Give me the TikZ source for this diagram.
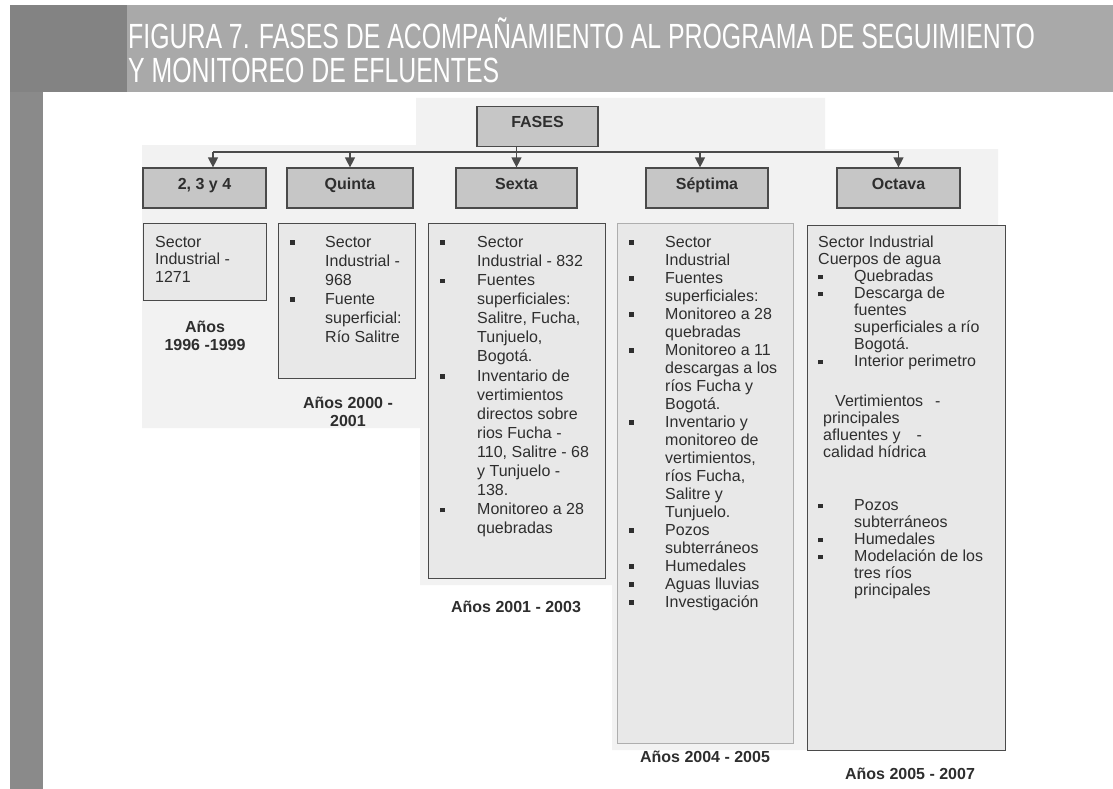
\documentclass[tikz,border=0pt]{standalone}
\usepackage{fontspec}
\setmainfont{Liberation Sans}
\newfontfamily\titlefont[FakeStretch=0.71]{Liberation Sans}
\usetikzlibrary{arrows.meta}
\definecolor{stripe}{HTML}{8A8A8A}
\definecolor{band}{HTML}{A9A9A9}
\definecolor{hdrfill}{HTML}{C6C6C6}
\definecolor{boxfill}{HTML}{E8E8E8}
\definecolor{backfill}{HTML}{F2F2F2}
\definecolor{edge}{HTML}{4A4A4A}
\definecolor{txt}{HTML}{2E2E2E}
\newlength\bw
\setlength\bw{35pt}
\newcommand\bul{\makebox[\bw][l]{\rule[2.5pt]{4.5pt}{4.5pt}}}
\newcommand\cnt{\hspace*{\bw}}
\begin{document}
\begin{tikzpicture}[x=1pt,y=-1pt,
  phase/.style={draw=edge, line width=1.2pt, fill=hdrfill, text=txt, font=\bfseries\fontsize{16}{18}\selectfont, minimum height=40pt, inner sep=0pt, text height=11pt, text depth=9pt},
  content/.style={draw=edge, line width=1.2pt, fill=boxfill, inner sep=0pt, anchor=north west},
  txtblk/.style={inner sep=0pt, align=left, font=\fontsize{16}{17.6}\selectfont, text=txt, anchor=north west},
  years/.style={inner sep=0pt, align=center, font=\bfseries\fontsize{16}{18}\selectfont, text=txt},
  conn/.style={draw=edge, line width=1.2pt},
  arr/.style={conn, -{Triangle[width=10pt,length=10pt]}},
  titletxt/.style={inner sep=0pt, anchor=base west, text=white, font=\titlefont\fontsize{35}{35}\selectfont}
]
\useasboundingbox (0,0) rectangle (1113,789);
\fill[white] (0,0) rectangle (1113,789);
% page decoration
\fill[stripe] (10,5) rectangle (43,789);
\fill[stripe!95!black] (10,5) rectangle (127,92);
\fill[band] (127,5) rectangle (1113,92);
\node[titletxt] (title1) at (128,49) {FIGURA 7. FASES DE ACOMPAÑAMIENTO AL PROGRAMA DE SEGUIMIENTO};
\node[titletxt] (title2) at (128,83) {Y MONITOREO DE EFLUENTES};
% faint backdrop
\fill[backfill] (142,145) -- (416,145) -- (416,98) -- (825,98) -- (825,149) -- (998,149) -- (998,225)
  -- (807,225) -- (807,750) -- (612,750) -- (612,585) -- (420,585) -- (420,428) -- (142,428) -- cycle;

% top node
\node[phase, minimum width=121pt] (fases) at (537.5,126.5) {FASES};
% phase nodes
\node[phase, minimum width=123pt] (p1) at (204.5,188) {2, 3 y 4};
\node[phase, minimum width=126pt] (p2) at (350,188) {Quinta};
\node[phase, minimum width=121pt] (p3) at (516.5,188) {Sexta};
\node[phase, minimum width=122pt] (p4) at (707,188) {Séptima};
\node[phase, minimum width=123pt] (p5) at (898.5,188) {Octava};

% connectors
\coordinate (j1) at (213,152);
\coordinate (j2) at (350,152);
\coordinate (j3) at (516.5,152);
\coordinate (j4) at (700,152);
\coordinate (j5) at (898.5,152);
\draw[conn] (j1) -- (j5);
\draw[arr] (fases.south -| p3.north) -- (p3.north);
\draw[arr] (j1) -- (j1 |- p1.north);
\draw[arr] (j2) -- (j2 |- p2.north);
\draw[arr] (j4) -- (j4 |- p4.north);
\draw[arr] (j5) -- (j5 |- p5.north);

% content boxes
\node[content, minimum width=123pt, minimum height=77pt] (c1) at (143,223) {};
\node[content, minimum width=137pt, minimum height=155pt] (c2) at (278,223) {};
\node[content, minimum width=177pt, minimum height=355pt] (c3) at (428,223) {};
\node[content, draw=edge!45, minimum width=176pt, minimum height=520pt] (c4) at (617,223) {};
\node[content, minimum width=198pt, minimum height=525pt] (c5) at (807,225) {};

% box texts
\node[txtblk, font=\fontsize{16}{17.5}\selectfont] (t1) at (155,236) {Sector\\Industrial -\\1271};
\node[txtblk, font=\fontsize{16}{19}\selectfont] (t2) at (290,236) {\global\bw=35pt\bul Sector\\ \cnt Industrial -\\ \cnt 968\\ \bul Fuente\\ \cnt superficial:\\ \cnt Río Salitre};
\node[txtblk, font=\fontsize{16}{19.1}\selectfont] (t3) at (440,236) {\global\bw=37pt\bul Sector\\ \cnt Industrial - 832\\ \bul Fuentes\\ \cnt superficiales:\\ \cnt Salitre, Fucha,\\ \cnt Tunjuelo,\\ \cnt Bogotá.\\ \bul Inventario de\\ \cnt vertimientos\\ \cnt directos sobre\\ \cnt rios Fucha -\\ \cnt 110, Salitre - 68\\ \cnt y Tunjuelo -\\ \cnt 138.\\ \bul Monitoreo a 28\\ \cnt quebradas};
\node[txtblk, font=\fontsize{16}{18}\selectfont] (t4) at (629,236) {\global\bw=36pt\bul Sector\\ \cnt Industrial\\ \bul Fuentes\\ \cnt superficiales:\\ \bul Monitoreo a 28\\ \cnt quebradas\\ \bul Monitoreo a 11\\ \cnt descargas a los\\ \cnt ríos Fucha y\\ \cnt Bogotá.\\ \bul Inventario y\\ \cnt monitoreo de\\ \cnt vertimientos,\\ \cnt ríos Fucha,\\ \cnt Salitre y\\ \cnt Tunjuelo.\\ \bul Pozos\\ \cnt subterráneos\\ \bul Humedales\\ \bul Aguas lluvias\\ \bul Investigación};
\node[txtblk, font=\fontsize{16}{17}\selectfont] (t5) at (818,236) {\global\bw=36pt Sector Industrial\\ Cuerpos de agua\\ \bul Quebradas\\ \bul Descarga de\\ \cnt fuentes\\ \cnt superficiales a río\\ \cnt Bogotá.\\ \bul Interior perimetro\\[23pt]
 \hspace*{17pt}Vertimientos\hspace{12pt}-\\ \hspace*{5pt}principales\\ \hspace*{5pt}afluentes y\hspace{16pt}-\\ \hspace*{5pt}calidad hídrica\\[36pt]
 \bul Pozos\\ \cnt subterráneos\\ \bul Humedales\\ \bul Modelación de los\\ \cnt tres ríos\\ \cnt principales};

% year labels
\node[years] (y1) at (205,336) {Años\\1996 -1999};
\node[years] (y2) at (348,411.5) {Años 2000 -\\2001};
\node[years] (y3) at (516,607) {Años 2001 - 2003};
\node[years] (y4) at (705,757) {Años 2004 - 2005};
\node[years] (y5) at (910,774) {Años 2005 - 2007};
\end{tikzpicture}
\end{document}
